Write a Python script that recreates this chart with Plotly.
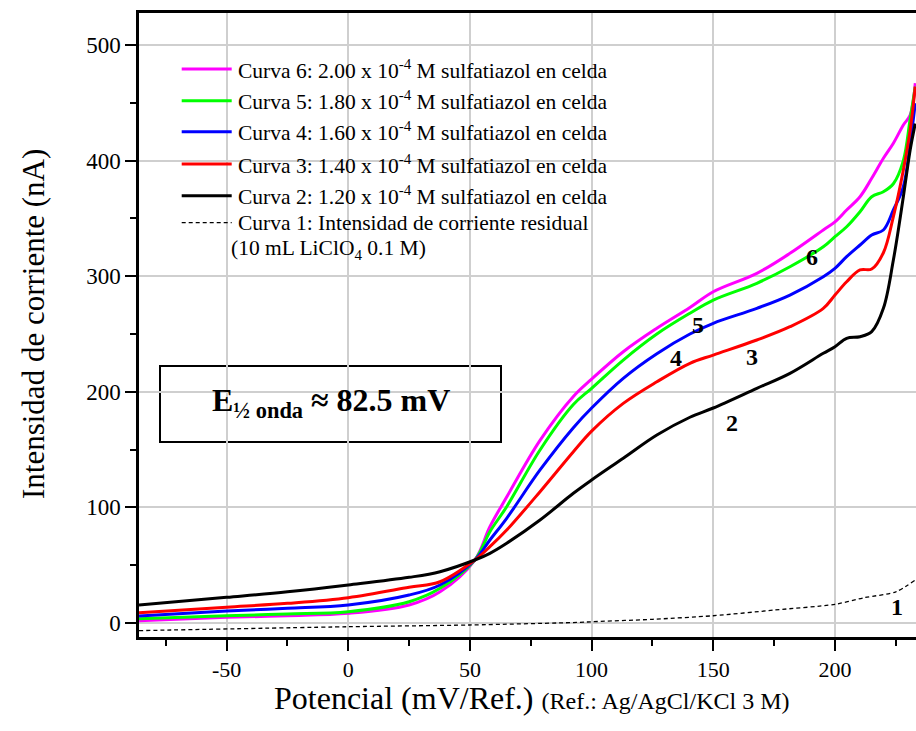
import plotly.graph_objects as go

# ---------------- data ----------------
potential = [-86, -50, -25, 0, 25, 37.7, 52, 58.2, 65.1, 78.8, 92.5, 100, 113, 126.8,
             140.4, 150, 167.9, 181.5, 195.2, 200, 204.8, 210.3, 215.1, 219.9, 224,
             228.1, 230.9, 233]

curve6 = [2.0, 4.9, 6.3, 8.4, 15.6, 27, 54.5, 83.3, 109, 158, 196, 211, 234.7, 255,
          273, 286.6, 302.5, 319.8, 340, 347, 357.3, 368.8, 384.7, 402, 415,
          430.8, 439.4, 467]
curve5 = [3.7, 6.3, 7.8, 9.8, 18.4, 30, 54.5, 79, 100.6, 149.7, 189, 203, 227.5, 250,
          268, 279.4, 293.9, 308.2, 325.5, 334.2, 342.8, 355.8, 368.8, 373.1, 380,
          400, 436, 464]
curve4 = [6.1, 10.4, 12.7, 15.6, 24.2, 32.9, 54.5, 71.8, 90.6, 132.4, 169, 186, 211.7, 233,
          250, 259.3, 272.2, 283.7, 299.6, 306.8, 316.9, 327, 335.6, 340, 357.3,
          377.4, 415, 449.6]
curve3 = [8.9, 13.6, 17, 21.9, 30.9, 35.7, 54.5, 66, 80.4, 113.6, 148.2, 166, 190, 208.7,
          224.7, 231.8, 244.8, 256.3, 272.2, 283.7, 295.2, 305.4, 306.2, 320.3, 351.5,
          391.9, 426.5, 464]
curve2 = [15.6, 22.2, 27, 32.9, 39.5, 44.4, 54.5, 60.3, 69, 89.1, 112.2, 123.7, 142.5, 162.6,
          178, 186, 203, 216, 233.3, 239, 246.3, 247.7, 252, 272.2, 314,
          368.8, 409.2, 432]

residual_potential = [-86, 0, 50, 95.2, 100, 125, 150, 175, 200, 212, 225, 233]
residual_current = [-6.6, -3.2, -1.7, 0.6, 1.1, 3.2, 6.3, 11.2, 16.2, 21.9, 27, 37.2]

x_tick_vals = [-50, 0, 50, 100, 150, 200]
x_tick_text = ["-50", "0", "50", "100", "150", "200"]
y_tick_vals = [0, 100, 200, 300, 400, 500]
y_tick_text = ["0", "100", "200", "300", "400", "500"]

legend_labels = [
    "Curva 6: 2.00 x 10<sup>-4</sup> M sulfatiazol en celda",
    "Curva 5: 1.80 x 10<sup>-4</sup> M sulfatiazol en celda",
    "Curva 4: 1.60 x 10<sup>-4</sup> M sulfatiazol en celda",
    "Curva 3: 1.40 x 10<sup>-4</sup> M sulfatiazol en celda",
    "Curva 2: 1.20 x 10<sup>-4</sup> M sulfatiazol en celda",
    "Curva 1: Intensidad de corriente residual",
]
legend_second_line = "(10 mL LiClO<sub>4</sub> 0.1 M)"

curve_numbers = ["6", "5", "4", "3", "2", "1"]
number_pos_x = [190.5, 143.8, 134.8, 165.7, 157.7, 225.5]
number_pos_y = [317, 257.5, 229.5, 230.4, 172.8, 13.8]

e_half_text = "<b>E<sub>½ onda</sub> ≈ 82.5 mV</b>"

# ---------------- styling ----------------
FONT = "Liberation Serif, Times New Roman, serif"
colors = ["#ff00ff", "#00ff00", "#0000ff", "#ff0000", "#000000"]

W, H = 916, 731
L, R, T, B = 139, 916, 13, 637


def px(xp):
    return (xp - L) / (R - L)


def py(yp):
    return (B - yp) / (B - T)


fig = go.Figure()

fig.add_trace(go.Scatter(x=residual_potential, y=residual_current, mode="lines",
                         line=dict(color="black", width=1.3, dash="4px,3px",
                                   shape="spline", smoothing=0.8),
                         showlegend=False, hoverinfo="skip"))

for ys, col in zip([curve6, curve5, curve4, curve3, curve2], colors):
    fig.add_trace(go.Scatter(x=potential, y=ys, mode="lines",
                             line=dict(color=col, width=3, shape="spline", smoothing=1.0),
                             showlegend=False))

shapes = []
annotations = []

# legend background (hides gridlines)
shapes.append(dict(type="rect", xref="paper", yref="paper",
                   x0=px(141), x1=px(652), y0=py(284), y1=py(15),
                   fillcolor="white", line=dict(width=0), layer="between"))

# legend entries
LEG_SIZE = 21.5
entry_y = [69, 100.7, 131.7, 164, 195.7, 222.7]
for i, lab in enumerate(legend_labels):
    if i < 5:
        shapes.append(dict(type="line", xref="paper", yref="paper",
                           x0=px(181.7), x1=px(231.7), y0=py(entry_y[i]), y1=py(entry_y[i]),
                           line=dict(color=colors[i], width=3)))
    else:
        shapes.append(dict(type="line", xref="paper", yref="paper",
                           x0=px(181.7), x1=px(231.7), y0=py(entry_y[i]), y1=py(entry_y[i]),
                           line=dict(color="black", width=1.2, dash="4px,3px")))
    annotations.append(dict(xref="paper", yref="paper", x=px(236), y=py(entry_y[i]),
                            text=lab, showarrow=False, xanchor="left", yanchor="middle",
                            font=dict(family=FONT, size=LEG_SIZE, color="black")))
annotations.append(dict(xref="paper", yref="paper", x=px(229), y=py(249),
                        text=legend_second_line, showarrow=False, xanchor="left",
                        yanchor="middle", font=dict(family=FONT, size=LEG_SIZE, color="black")))

# E 1/2 box
shapes.append(dict(type="rect", xref="paper", yref="paper",
                   x0=px(160), x1=px(501), y0=py(442), y1=py(366),
                   fillcolor="white", line=dict(color="black", width=2), layer="between"))
annotations.append(dict(xref="paper", yref="paper", x=px(330.5), y=py(402),
                        text=e_half_text, showarrow=False, xanchor="center", yanchor="middle",
                        font=dict(family=FONT, size=32, color="black")))

# curve numbers
for t, xx, yy in zip(curve_numbers, number_pos_x, number_pos_y):
    annotations.append(dict(x=xx, y=yy, xref="x", yref="y", text="<b>" + t + "</b>",
                            showarrow=False, xanchor="center", yanchor="middle",
                            font=dict(family=FONT, size=24, color="black")))

# axis titles
annotations.append(dict(xref="paper", yref="paper", x=px(33), y=py(324),
                        text="Intensidad de corriente (nA)", textangle=-90, showarrow=False,
                        xanchor="center", yanchor="middle",
                        font=dict(family=FONT, size=31, color="black")))
annotations.append(dict(xref="paper", yref="paper", x=px(531.5), y=py(698),
                        text="Potencial (mV/Ref.) <span style='font-size:24px'>(Ref.: Ag/AgCl/KCl 3 M)</span>",
                        showarrow=False, xanchor="center", yanchor="middle",
                        font=dict(family=FONT, size=32, color="black")))

fig.update_layout(
    width=W, height=H,
    margin=dict(l=L, r=W - R, t=T, b=H - B, pad=0),
    paper_bgcolor="white", plot_bgcolor="white",
    shapes=shapes, annotations=annotations,
    showlegend=False,
    font=dict(family=FONT, color="black"),
)

fig.update_xaxes(range=[-86, 233.3], tickmode="array", tickvals=x_tick_vals,
                 ticktext=x_tick_text, ticks="outside", ticklen=11,
                 tickwidth=2, tickcolor="black", showline=True, linewidth=2.5,
                 linecolor="black", mirror=True, showgrid=True, gridcolor="#cfcfcf",
                 gridwidth=1.5, zeroline=False,
                 tickfont=dict(family=FONT, size=22, color="black"),
                 minor=dict(ticks="outside", ticklen=6, tickwidth=2, tickcolor="black",
                            tickmode="linear", dtick=25, tick0=0, showgrid=False))
fig.update_yaxes(range=[-12.1, 527.7], tickmode="array", tickvals=y_tick_vals,
                 ticktext=y_tick_text, ticks="outside", ticklen=11,
                 tickwidth=2, tickcolor="black", showline=True, linewidth=2.5,
                 linecolor="black", mirror=False, showgrid=True, gridcolor="#cfcfcf",
                 gridwidth=1.5, zeroline=False,
                 tickfont=dict(family=FONT, size=23, color="black"),
                 minor=dict(ticks="outside", ticklen=6, tickwidth=2, tickcolor="black",
                            tickmode="linear", dtick=50, tick0=0, showgrid=False))

fig.write_html("out.html")
